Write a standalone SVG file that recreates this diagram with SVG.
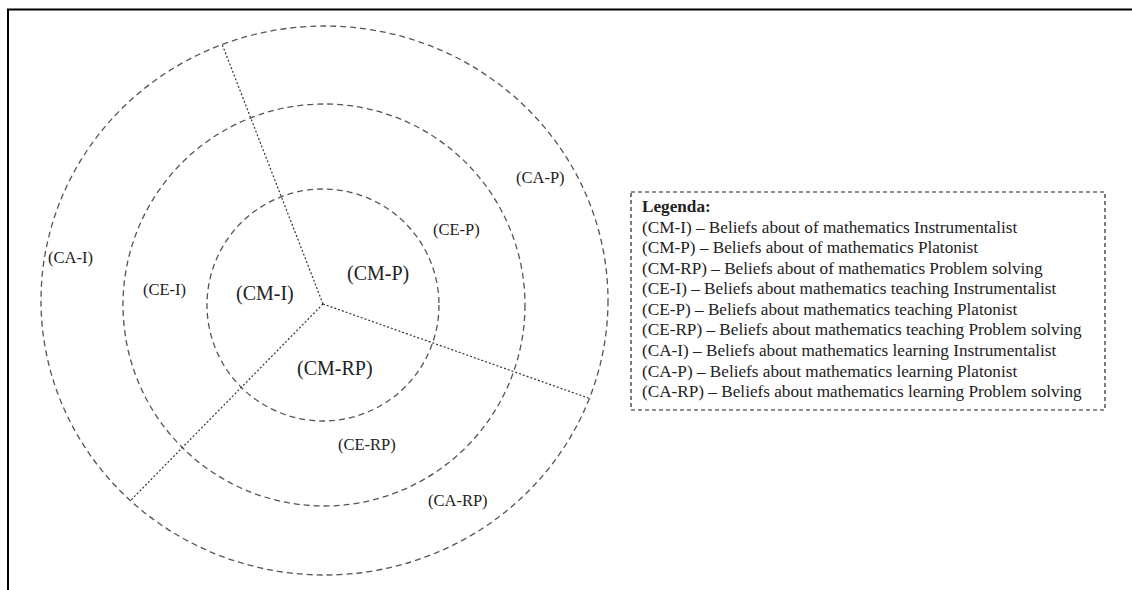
<svg xmlns="http://www.w3.org/2000/svg" width="1132" height="590" viewBox="0 0 1132 590">
<style>
.ring{fill:none;stroke:#555;stroke-width:1.3;stroke-dasharray:6 4}
.spoke{fill:none;stroke:#333;stroke-width:1.2;stroke-dasharray:2 2}
.big{font-family:"Liberation Serif","Times New Roman",serif;font-size:20px;fill:#222}
.sm{font-family:"Liberation Serif","Times New Roman",serif;font-size:16.5px;fill:#222}
.leg{font-family:"Liberation Serif","Times New Roman",serif;font-size:17.2px;fill:#222}
</style>
<rect width="1132" height="590" fill="#fff"/>
<path d="M8 590 V9.5 H1132" fill="none" stroke="#000" stroke-width="2"/>
<g id="rings">
<ellipse id="ring-CA" class="ring" cx="324.5" cy="300.5" rx="283.5" ry="274.5"/>
<ellipse id="ring-CE" class="ring" cx="324" cy="305" rx="201" ry="201"/>
<ellipse id="ring-CM" class="ring" cx="323" cy="305" rx="116" ry="116"/>
</g>
<g id="connectors">
<line class="spoke" x1="323" y1="304" x2="222" y2="44"/>
<line class="spoke" x1="323" y1="304" x2="591" y2="399"/>
<line class="spoke" x1="323" y1="304" x2="131" y2="500"/>
</g>
<g id="CM-I"><text class="big" x="236" y="300">(CM-I)</text></g>
<g id="CM-P"><text class="big" x="347" y="280">(CM-P)</text></g>
<g id="CM-RP"><text class="big" x="297" y="375">(CM-RP)</text></g>
<g id="CE-I"><text class="sm" x="143" y="295">(CE-I)</text></g>
<g id="CE-P"><text class="sm" x="433" y="235">(CE-P)</text></g>
<g id="CE-RP"><text class="sm" x="338" y="450">(CE-RP)</text></g>
<g id="CA-I"><text class="sm" x="48" y="263">(CA-I)</text></g>
<g id="CA-P"><text class="sm" x="516" y="183">(CA-P)</text></g>
<g id="CA-RP"><text class="sm" x="428" y="506">(CA-RP)</text></g>
<g id="legend">
<rect x="631" y="192" width="474" height="218" fill="none" stroke="#222" stroke-width="1.2" stroke-dasharray="4 3"/>
<text class="leg" x="642" y="212" font-weight="bold">Legenda:</text>
<text class="leg" x="642" y="232.5">(CM-I) – Beliefs about of mathematics Instrumentalist</text>
<text class="leg" x="642" y="253">(CM-P) – Beliefs about of mathematics Platonist</text>
<text class="leg" x="642" y="273.7">(CM-RP) – Beliefs about of mathematics Problem solving</text>
<text class="leg" x="642" y="294.2">(CE-I) – Beliefs about mathematics teaching Instrumentalist</text>
<text class="leg" x="642" y="314.8">(CE-P) – Beliefs about mathematics teaching Platonist</text>
<text class="leg" x="642" y="335.4">(CE-RP) – Beliefs about mathematics teaching Problem solving</text>
<text class="leg" x="642" y="355.9">(CA-I) – Beliefs about mathematics learning Instrumentalist</text>
<text class="leg" x="642" y="376.5">(CA-P) – Beliefs about mathematics learning Platonist</text>
<text class="leg" x="642" y="397">(CA-RP) – Beliefs about mathematics learning Problem solving</text>
</g>
</svg>
